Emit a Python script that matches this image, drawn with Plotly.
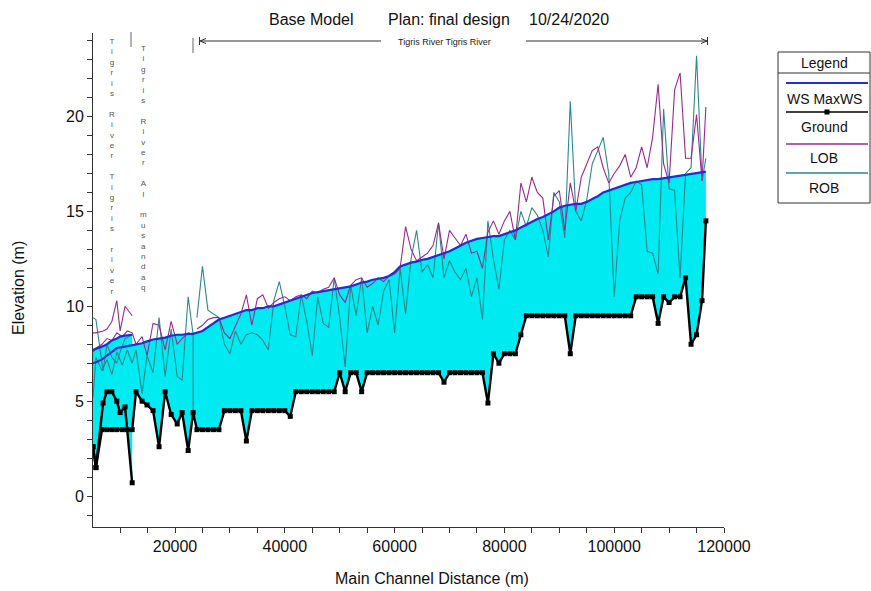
import plotly.graph_objects as go

# ---------------- DATA ----------------
# Reach A : upstream "Tigris River / Tigris river"
reach_a_x = [5060, 5600, 6900, 7600, 8500, 9400, 10000, 10900, 12200]
reach_a_ground = [2.6, 1.5, 4.9, 5.5, 5.5, 5.0, 4.4, 4.7, 0.7]
reach_a_ws = [7.7, 7.75, 7.9, 8.0, 8.2, 8.3, 8.4, 8.45, 8.5]
reach_a_lob = [8.6, 8.6, 8.7, 8.8, 9.2, 10.3, 8.7, 10.0, 9.5]
reach_a_rob = [9.4, 9.3, 6.6, 8.0, 7.3, 7.0, 7.6, 8.3, 8.5]

# Reach B upstream part : "Tigris River / Al musandaq"
reach_b_up_x = [5060, 5600, 6700, 7600, 8500, 9400, 10400, 11300, 12200, 12900,
                14000, 14900, 16000, 17100, 18200, 19300, 20400, 21300, 22400, 23300]
reach_b_up_ground = [2.6, 1.5, 3.5, 3.5, 3.5, 3.5, 3.5, 3.5, 3.5, 5.5,
                     5.0, 4.8, 4.5, 2.6, 5.5, 4.3, 3.8, 4.4, 2.4, 4.4]
reach_b_up_ws = [7.0, 7.05, 7.2, 7.4, 7.6, 7.8, 7.85, 7.9, 7.95, 8.0,
                 8.05, 8.15, 8.25, 8.3, 8.35, 8.45, 8.5, 8.5, 8.55, 8.55]
reach_b_up_lob = [7.6, 7.8, 8.0, 8.3, 8.2, 8.6, 8.4, 8.7, 8.6, 8.0,
                  8.4, 7.4, 9.1, 9.0, 7.7, 9.2, 8.0, 8.3, 8.6, 8.5]
rob_b_up_x = [5060, 5600, 6700, 7600, 8500, 9400, 10400, 11300, 12200, 12900,
              14000, 14900, 16000, 17100, 18200, 19300, 20400, 21300, 22400, 23300, 23300]
rob_b_up = [5.2, 7.3, 6.6, 7.2, 6.4, 7.6, 6.9, 7.7, 7.0, 7.7,
            5.4, 7.4, 6.5, 9.4, 6.3, 8.8, 6.3, 6.1, 10.5, 8.5, 4.4]

# Main reach : "Tigris River Tigris River"
main_x = [24000, 25000, 26000, 27000, 28000, 29000, 30000, 31000, 32000, 33000,
          34000, 35000, 36000, 37000, 38000, 39000, 40000, 41000, 42000, 43000,
          44000, 45000, 46000, 47000, 48000, 49000, 50000, 51000, 52000, 53000,
          54000, 55000, 56000, 57000, 58000, 59000, 60000, 61000, 62000, 63000,
          64000, 65000, 66000, 67000, 68000, 69000, 70000, 71000, 72000, 73000,
          74000, 75000, 76000, 77000, 78000, 79000, 80000, 81000, 82000, 83000,
          84000, 85000, 86000, 87000, 88000, 89000, 90000, 91000, 92000, 93000,
          94000, 95000, 96000, 97000, 98000, 99000, 100000, 101000, 102000, 103000,
          104000, 105000, 106000, 107000, 108000, 109000, 110000, 111000, 112000, 113000,
          114000, 115000, 116000, 116700]
main_ground = [3.5, 3.5, 3.5, 3.5, 3.5, 4.5, 4.5, 4.5, 4.5, 2.9,
               4.5, 4.5, 4.5, 4.5, 4.5, 4.5, 4.5, 4.2, 5.5, 5.5,
               5.5, 5.5, 5.5, 5.5, 5.5, 5.5, 6.5, 5.5, 6.5, 6.5,
               5.5, 6.5, 6.5, 6.5, 6.5, 6.5, 6.5, 6.5, 6.5, 6.5,
               6.5, 6.5, 6.5, 6.5, 6.5, 6.0, 6.5, 6.5, 6.5, 6.5,
               6.5, 6.5, 6.5, 4.9, 7.5, 7.0, 7.5, 7.5, 7.5, 8.5,
               9.5, 9.5, 9.5, 9.5, 9.5, 9.5, 9.5, 9.5, 7.5, 9.5,
               9.5, 9.5, 9.5, 9.5, 9.5, 9.5, 9.5, 9.5, 9.5, 9.5,
               10.5, 10.5, 10.5, 10.5, 9.1, 10.5, 10.2, 10.5, 10.5, 11.5,
               8.0, 8.5, 10.3, 14.5]
main_ws = [8.6, 8.7, 8.9, 9.1, 9.3, 9.4, 9.5, 9.6, 9.7, 9.8,
           9.8, 9.9, 9.9, 10.0, 10.0, 10.1, 10.2, 10.3, 10.4, 10.5,
           10.6, 10.7, 10.75, 10.8, 10.85, 10.9, 10.95, 11.0, 11.05, 11.15,
           11.25, 11.3, 11.4, 11.45, 11.5, 11.6, 11.8, 12.1, 12.2, 12.3,
           12.35, 12.45, 12.5, 12.6, 12.7, 12.8, 12.9, 13.05, 13.2, 13.35,
           13.45, 13.55, 13.6, 13.65, 13.7, 13.7, 13.8, 13.9, 14.0, 14.15,
           14.3, 14.45, 14.6, 14.7, 14.85, 15.0, 15.2, 15.3, 15.35, 15.4,
           15.4, 15.5, 15.65, 15.8, 16.0, 16.1, 16.2, 16.3, 16.4, 16.5,
           16.55, 16.6, 16.65, 16.7, 16.7, 16.75, 16.8, 16.85, 16.9, 16.95,
           17.0, 17.05, 17.1, 17.1]
main_lob = [8.8, 9.0, 9.3, 9.4, 9.4, 8.6, 8.3, 9.0, 9.6, 10.6,
            9.0, 10.4, 10.6, 9.9, 10.2, 10.4, 10.5, 10.3, 10.5, 10.6,
            10.4, 10.8, 10.7, 10.9, 11.0, 11.5, 10.6, 10.2, 11.1, 11.4,
            11.5, 11.0, 11.2, 11.5, 11.3, 11.6, 11.7, 12.0, 14.2, 13.0,
            12.4, 12.6, 12.8, 13.2, 14.4, 12.5, 14.0, 13.6, 13.2, 13.8,
            12.8, 12.9, 12.0, 13.9, 14.5, 13.8, 14.5, 15.0, 13.5, 16.5,
            15.5, 16.8, 16.0, 15.7, 13.5, 15.8, 16.1, 14.0, 16.5, 15.0,
            16.8, 17.5, 18.2, 18.4, 17.3, 16.5, 17.0, 17.4, 18.0, 16.8,
            17.3, 18.4, 17.3, 18.9, 21.7, 17.5, 16.5, 21.4, 22.3, 17.8,
            17.8, 20.1, 16.6, 20.5]
main_rob = [9.4, 12.1, 9.8, 9.6, 9.4, 8.0, 7.5, 8.7, 8.0, 8.5,
            8.6, 8.5, 8.2, 7.7, 10.3, 11.3, 10.0, 8.5, 8.4, 10.6,
            9.2, 7.4, 10.5, 9.1, 8.9, 11.5, 9.4, 6.8, 11.1, 9.5,
            11.5, 8.6, 10.0, 9.0, 10.8, 11.4, 8.6, 12.0, 9.6, 12.5,
            14.0, 11.8, 12.2, 11.5, 14.4, 11.5, 12.4, 11.8, 11.4, 12.0,
            10.5, 11.5, 9.3, 14.5, 12.5, 10.9, 13.5, 14.0, 13.5, 15.0,
            14.2, 15.2, 14.8, 14.0, 12.6, 16.0, 15.5, 13.6, 20.8, 15.0,
            14.5, 15.6, 17.5, 18.2, 18.9, 17.0, 10.5, 14.5, 15.7, 16.0,
            16.6, 16.4, 12.9, 12.8, 11.7, 20.4, 16.2, 16.1, 11.5, 17.0,
            17.3, 23.2, 16.6, 17.8]

x_ticks = [20000, 40000, 60000, 80000, 100000, 120000]
y_ticks = [0, 5, 10, 15, 20]

# ---------------- STYLE ----------------
FILL = "#00EAF2"
WS_C = "#1F2FD0"
LOB_C = "#9A2A8E"
ROB_C = "#2C8790"
FONT = "Liberation Sans"

W, H = 871, 591
L, R, T, B = 93, 147, 33, 64
PW, PH = W - L - R, H - T - B


def px(x):
    return (x - L) / PW


def py(y):
    return (H - B - y) / PH


# reach B = upstream part + main reach
reach_b_x = reach_b_up_x + main_x
reach_b_ground = reach_b_up_ground + main_ground
reach_b_ws = reach_b_up_ws + main_ws

fig = go.Figure()

# fills
for gx, gy, wy in [(reach_a_x, reach_a_ground, reach_a_ws),
                   (reach_b_x, reach_b_ground, reach_b_ws)]:
    fig.add_trace(go.Scatter(x=gx, y=gy, mode="lines", line=dict(width=0, color=FILL),
                             showlegend=False, hoverinfo="skip"))
    fig.add_trace(go.Scatter(x=gx, y=wy, mode="lines", line=dict(width=0, color=FILL),
                             fill="tonexty", fillcolor=FILL, showlegend=False, hoverinfo="skip"))

# bank lines
for bx, by in [(reach_a_x, reach_a_rob), (rob_b_up_x, rob_b_up), (main_x, main_rob)]:
    fig.add_trace(go.Scatter(x=bx, y=by, mode="lines", line=dict(width=1.1, color=ROB_C),
                             showlegend=False))
for bx, by in [(reach_a_x, reach_a_lob), (reach_b_up_x, reach_b_up_lob), (main_x, main_lob)]:
    fig.add_trace(go.Scatter(x=bx, y=by, mode="lines", line=dict(width=1.1, color=LOB_C),
                             showlegend=False))

# water surface
for wx, wy in [(reach_a_x, reach_a_ws), (reach_b_x, reach_b_ws)]:
    fig.add_trace(go.Scatter(x=wx, y=wy, mode="lines", line=dict(width=2.2, color=WS_C),
                             showlegend=False))

# ground
for gx, gy in [(reach_a_x, reach_a_ground), (reach_b_x, reach_b_ground)]:
    fig.add_trace(go.Scatter(x=gx, y=gy, mode="lines+markers",
                             line=dict(width=2.4, color="black"),
                             marker=dict(symbol="square", size=5, color="black"),
                             showlegend=False))

shapes = []
annotations = []


def hline(x0, x1, y, color="#333", width=1):
    shapes.append(dict(type="line", xref="paper", yref="paper", x0=px(x0), x1=px(x1),
                       y0=py(y), y1=py(y), line=dict(color=color, width=width)))


def vline(x, y0, y1, color="#444", width=1):
    shapes.append(dict(type="line", xref="paper", yref="paper", x0=px(x), x1=px(x),
                       y0=py(y0), y1=py(y1), line=dict(color=color, width=width)))


def seg(x0, y0, x1, y1, color="#333", width=1):
    shapes.append(dict(type="line", xref="paper", yref="paper", x0=px(x0), x1=px(x1),
                       y0=py(y0), y1=py(y1), line=dict(color=color, width=width)))


def text(t, x, y, size=16, xanchor="center", yanchor="middle", color="#111", angle=0):
    annotations.append(dict(text=t, xref="paper", yref="paper", x=px(x), y=py(y),
                            xanchor=xanchor, yanchor=yanchor, showarrow=False,
                            textangle=angle, font=dict(family=FONT, size=size, color=color)))


# title
text("Base Model", 267, 20, xanchor="left")
text("Plan: final design", 386, 20, xanchor="left")
text("10/24/2020", 527, 20, xanchor="left")

# reach extent arrow
hline(200, 381, 41)
hline(526, 707, 41)
vline(199.5, 37, 45, color="#333")
seg(200, 41, 206, 38.5)
seg(200, 41, 206, 43.5)
vline(707.5, 37, 45, color="#333")
seg(707, 41, 701, 38.5)
seg(707, 41, 701, 43.5)
text("Tigris River Tigris River", 444, 42, size=9, color="#222")

# reach marks
vline(131, 32, 47, color="#666")
vline(193, 38, 53, color="#666")

# vertical reach labels
def stacked(s):
    return "<br>".join("\u00a0" if c == " " else c for c in s)


annotations.append(dict(text=stacked("Tigris River Tigris river"), xref="paper", yref="paper",
                        x=px(112), y=py(35), xanchor="center", yanchor="top", showarrow=False,
                        align="center", font=dict(family=FONT, size=8, color="#555")))
annotations.append(dict(text=stacked("Tigris River Al musandaq"), xref="paper", yref="paper",
                        x=px(143), y=py(42), xanchor="center", yanchor="top", showarrow=False,
                        align="center", font=dict(family=FONT, size=8, color="#555")))

# axis titles
text("Elevation (m)", 18, 288, angle=-90)
text("Main Channel Distance (m)", 432, 579)

# legend box
shapes.append(dict(type="rect", xref="paper", yref="paper", x0=px(778), x1=px(870),
                   y0=py(52), y1=py(203), line=dict(color="#333", width=1), fillcolor="white"))
hline(778, 870, 73)
text("Legend", 824, 63, size=14)
hline(786, 868, 83, color=WS_C, width=2)
text("WS MaxWS", 824, 99, size=14)
hline(786, 868, 112, color="black", width=1.5)
shapes.append(dict(type="rect", xref="paper", yref="paper", x0=px(824.5), x1=px(829.5),
                   y0=py(109.5), y1=py(114.5), line=dict(width=0), fillcolor="black"))
text("Ground", 824, 127, size=14)
hline(786, 868, 144, color=LOB_C, width=1.5)
text("LOB", 824, 158, size=14)
hline(786, 868, 173, color=ROB_C, width=1.5)
text("ROB", 824, 188, size=14)

fig.update_layout(
    width=W, height=H,
    margin=dict(l=L, r=R, t=T, b=B, pad=0),
    paper_bgcolor="white", plot_bgcolor="white",
    showlegend=False,
    font=dict(family=FONT, size=16, color="#111"),
    shapes=shapes, annotations=annotations,
    xaxis=dict(range=[5064, 120000], tickvals=x_ticks, tickformat="d",
               ticks="outside", ticklen=5, tickcolor="#333", showline=True,
               linecolor="#333", linewidth=1, showgrid=False, zeroline=False,
               tickfont=dict(size=16, family=FONT, color="#111"),
               minor=dict(dtick=5000, ticks="outside", ticklen=5, tickcolor="#333")),
    yaxis=dict(range=[-1.63, 24.4], tickvals=y_ticks,
               ticks="outside", ticklen=5, tickcolor="#333", showline=True,
               linecolor="#333", linewidth=1, showgrid=False, zeroline=False,
               tickfont=dict(size=16, family=FONT, color="#111"),
               minor=dict(dtick=1, ticks="outside", ticklen=5, tickcolor="#333")),
)

fig.write_html("out.html", config={"displayModeBar": False},
               post_script="document.body.style.margin='0px';")
